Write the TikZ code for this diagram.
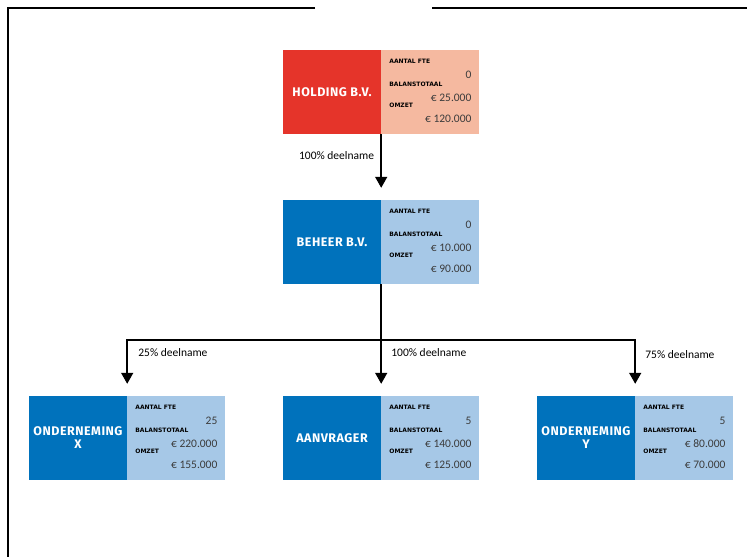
\documentclass[tikz,border=0pt]{standalone}
\usepackage{fontspec}
\setmainfont{Carlito}
\newfontfamily\titlefont[LetterSpace=4]{Fira Sans}
\newfontfamily\labelfont{DejaVu Sans}
\usetikzlibrary{arrows.meta,positioning}
\tikzset{>={Triangle[width=12pt,length=11pt]}}
\definecolor{HoldRed}{RGB}{229,52,42}
\definecolor{HoldLight}{RGB}{245,185,160}
\definecolor{FirmBlue}{RGB}{0,114,188}
\definecolor{FirmLight}{RGB}{166,200,231}
\definecolor{ValGray}{RGB}{60,60,60}
\tikzset{
	namebox/.style={minimum width=98pt,minimum height=84pt,inner sep=0pt,text=white,align=center,font=\titlefont\bfseries\fontsize{12.5}{13}\selectfont},
	infobox/.style={minimum width=98pt,minimum height=84pt,inner sep=0pt},
	lab/.style={anchor=west,inner sep=0pt,font=\labelfont\bfseries\fontsize{6}{7}\selectfont},
	val/.style={anchor=east,inner sep=0pt,font=\fontsize{11.5}{12}\selectfont,text=ValGray},
	link/.style={->,line width=1.6pt,shorten >=12pt},
	share/.style={inner sep=0pt,font=\fontsize{11.5}{12}\selectfont}
}
% text in the light half of a box
\newcommand{\infotext}[4]{%
	\node[lab] at ([xshift=8pt,yshift=-12pt]#1.north west) {AANTAL FTE};
	\node[val] at ([xshift=-8pt,yshift=-25pt]#1.north east) {#2};
	\node[lab] at ([xshift=8pt,yshift=-35pt]#1.north west) {BALANSTOTAAL};
	\node[val] at ([xshift=-8pt,yshift=-48pt]#1.north east) {#3};
	\node[lab] at ([xshift=8pt,yshift=-56pt]#1.north west) {OMZET};
	\node[val] at ([xshift=-8pt,yshift=-69pt]#1.north east) {#4};
}
\begin{document}
\begin{tikzpicture}[x=1pt,y=-1pt]
	\useasboundingbox (0,0) rectangle (747,557);

	% frame
	\draw[line width=1.6pt] (315,8) -- (8,8) -- (8,557);
	\draw[line width=1.6pt] (432,8) -- (747,8);

	% holding
	\node[namebox,fill=HoldRed] (hold) at (332,92) {HOLDING B.V.};
	\node[infobox,fill=HoldLight,right=0pt of hold] (holdinfo) {};
	\infotext{holdinfo}{0}{€ 25.000}{€ 120.000}

	% beheer
	\node[namebox,fill=FirmBlue] (beh) at (332,242) {BEHEER B.V.};
	\node[infobox,fill=FirmLight,right=0pt of beh] (behinfo) {};
	\infotext{behinfo}{0}{€ 10.000}{€ 90.000}

	% onderneming x
	\node[namebox,fill=FirmBlue] (ondx) at (78,438) {ONDERNEMING\\X};
	\node[infobox,fill=FirmLight,right=0pt of ondx] (ondxinfo) {};
	\infotext{ondxinfo}{25}{€ 220.000}{€ 155.000}

	% aanvrager
	\node[namebox,fill=FirmBlue] (aanv) at (332,438) {AANVRAGER};
	\node[infobox,fill=FirmLight,right=0pt of aanv] (aanvinfo) {};
	\infotext{aanvinfo}{5}{€ 140.000}{€ 125.000}

	% onderneming y
	\node[namebox,fill=FirmBlue] (ondy) at (586,438) {ONDERNEMING\\Y};
	\node[infobox,fill=FirmLight,right=0pt of ondy] (ondyinfo) {};
	\infotext{ondyinfo}{5}{€ 80.000}{€ 70.000}

	% shares
	\draw[link] (hold.south east) -- (beh.north east);
	\node[share,anchor=east] (sharebeh) at ([xshift=-7pt,yshift=-21pt]hold.south east) {100\% deelname};

	\coordinate[below=56pt of beh.south east] (bus);
	\draw[line width=1.6pt] (beh.south east) -- (bus);
	\draw[link] (bus) -| (ondx.north east);
	\draw[link] (bus) -- (aanv.north east);
	\draw[link] (bus) -| (ondy.north east);

	\node[share,anchor=west] (sharex) at ([xshift=11pt,yshift=-12pt]bus -| ondx.north east) {25\% deelname};
	\node[share,anchor=west] (shareaanv) at ([xshift=10pt,yshift=-12pt]bus) {100\% deelname};
	\node[share,anchor=west] (sharey) at ([xshift=10pt,yshift=-14pt]bus -| ondy.north east) {75\% deelname};
\end{tikzpicture}
\end{document}
